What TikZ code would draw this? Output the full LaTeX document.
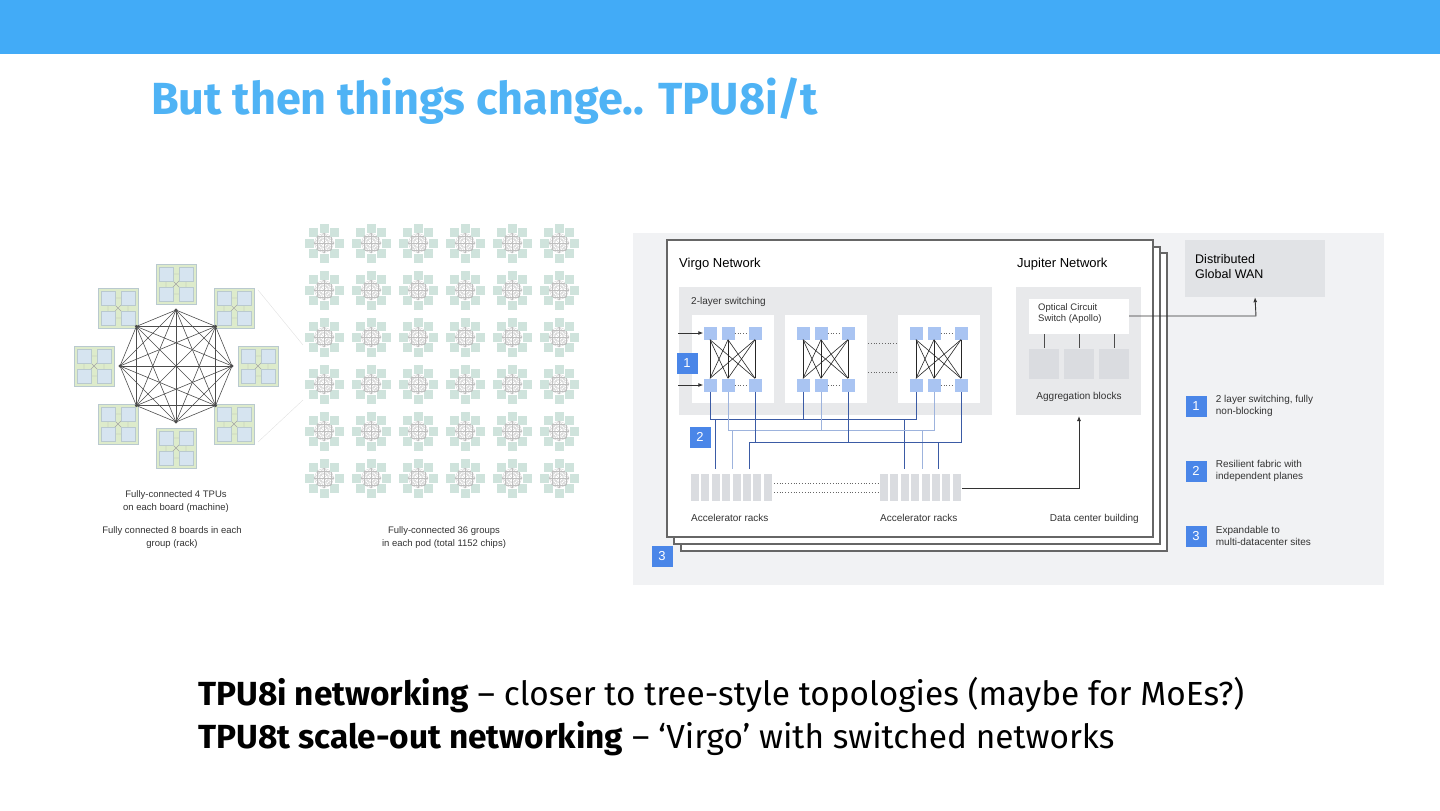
\documentclass[tikz,border=0pt]{standalone}
\usepackage{fontspec}
\setmainfont{Fira Sans}
\newfontfamily\diafont{Liberation Sans}
\usetikzlibrary{positioning,arrows.meta,calc}
\definecolor{barblue}{HTML}{42ABF7}
\definecolor{titleblue}{HTML}{4FB3F5}
\definecolor{panelgray}{HTML}{F1F2F4}
\definecolor{boxgray}{HTML}{E8E9EB}
\definecolor{blockgray}{HTML}{DADCE0}
\definecolor{badgeblue}{HTML}{4A86E8}
\definecolor{sqblue}{HTML}{A9C4F2}
\definecolor{wireblue}{HTML}{3B5BA5}
\definecolor{wirelight}{HTML}{9DB3DD}
\definecolor{boardgreen}{HTML}{DDEBCB}
\definecolor{boardedge}{HTML}{B9C9CF}
\definecolor{chipblue}{HTML}{D6E4F0}
\definecolor{minigreen}{HTML}{CFE3DC}
\tikzset{
  badge/.style={fill=badgeblue,text=white,minimum size=21pt,inner sep=0pt,font=\diafont\fontsize{13}{13}\selectfont},
  lbl/.style={inner sep=0pt,anchor=base west,font=\diafont\fontsize{10}{12}\selectfont,text=black!80},
  head/.style={inner sep=0pt,anchor=base west,font=\diafont\fontsize{13}{15}\selectfont},
  sq/.style={fill=sqblue,minimum size=13pt,inner sep=0pt},
  frame/.style={draw=black!60,line width=1.2pt,fill=white},
  wire/.style={wireblue,line width=0.9pt},
  wirel/.style={wirelight,line width=0.9pt},
  dots/.style={black!60,dotted,line width=0.8pt},
  arr/.style={-{Latex[length=5pt,width=4pt]},black!80,line width=0.9pt},
}
\begin{document}
\begin{tikzpicture}[x=1pt,y=-1pt]
  \useasboundingbox (0,0) rectangle (1440,811);
  % top bar and title
  \fill[barblue] (0,0) rectangle (1440,54);
  \node[inner sep=0pt,anchor=base west,text=titleblue,font=\fontsize{45}{45}\selectfont\bfseries] (title) at (151,114) {But then things change.. TPU8i/t};

  % left: one group (rack)
  \foreach \i in {1,...,8}
    \coordinate (v\i) at ($(176,366)+({45*(\i-1)}:56)$);
  \foreach \i in {1,...,8} {
    \begin{scope}[shift={($(176,366)+({45*(\i-1)}:82)$)}]
      \draw[fill=boardgreen,draw=boardedge] (-20,-20) rectangle (20,20);
      \draw[black!35,line width=0.4pt] (-10,-10) -- (10,10) (-10,10) -- (10,-10) (-10,-10) -- (10,-10) (-10,10) -- (10,10) (-10,-10) -- (-10,10) (10,-10) -- (10,10);
      \foreach \dx/\dy in {-1/-1,1/-1,-1/1,1/1}
        \draw[fill=chipblue,draw=boardedge] ({10*\dx-7},{10*\dy-7}) rectangle ({10*\dx+7},{10*\dy+7});
    \end{scope}
  }
  \foreach \i in {1,...,7}
    \foreach \j in {\i,...,8}
      \draw[black!70,line width=0.6pt] (v\i) -- (v\j);
  \foreach \i in {1,...,8} \fill[black!70] (v\i) circle (1.6pt);
  \draw[black!12] (258,290) -- (303,345) (258,442) -- (303,400);

  % middle: 36 groups (pod)
  \foreach \gx in {0,...,5}
    \foreach \gy in {0,...,5} {
      \begin{scope}[shift={({324+47*\gx},{243+47*\gy})}]
        \foreach \k in {0,...,7} {
          \fill[minigreen] ({45*\k}:15) ++(-4.5,-4.5) rectangle ++(9,9);
          \foreach \m in {\k,...,7}
            \draw[black!25,line width=0.2pt] ({45*\k}:10) -- ({45*\m}:10);
        }
      \end{scope}
    }

  \node[lbl,anchor=base,align=center,font=\diafont\fontsize{9.5}{13}\selectfont] (cap1) at (176,510) {Fully-connected 4 TPUs\\on each board (machine)};
  \node[lbl,anchor=base,align=center,font=\diafont\fontsize{9.5}{13}\selectfont] (cap2) at (172,546) {Fully connected 8 boards in each\\group (rack)};
  \node[lbl,anchor=base,align=center,font=\diafont\fontsize{9.5}{13}\selectfont] (cap3) at (444,546) {Fully-connected 36 groups\\in each pod (total 1152 chips)};

  % right: Virgo / Jupiter
  \fill[panelgray] (633,233) rectangle (1384,585);
  \draw[frame] (681,253) rectangle (1167,551);
  \draw[frame] (674,247) rectangle (1160,544);
  \draw[frame] (667,240) rectangle (1153,537);
  \node[badge] (b3) at (662,556) {3};
  \node[head] (virgo) at (679,267) {Virgo Network};
  \node[head] (jupiter) at (1017,267) {Jupiter Network};
  \fill[boxgray] (679,287) rectangle (992,415);
  \node[lbl] (twolayer) at (691,304) {2-layer switching};
  \foreach \b/\x in {1/692,2/785,3/898} {
    \fill[white] (\x,315) rectangle ({\x+82},403);
    \foreach \s/\o in {1/18,2/36,3/63} {
      \node[sq] (t\b\s) at ({\x+\o},333) {};
      \node[sq] (u\b\s) at ({\x+\o},385) {};
    }
    \foreach \s in {1,2,3}
      \foreach \t in {1,2,3}
        \draw[black!85,line width=0.6pt] (t\b\s.south) -- (u\b\t.north);
    \draw[dots] (t\b2.east) -- (t\b3.west);
    \draw[dots] (u\b2.east) -- (u\b3.west);
  }
  \draw[dots] (868,343) -- (897,343) (868,372) -- (897,372);
  \draw[arr] (678,333) -- (t11.west);
  \draw[arr] (678,385) -- (u11.west);
  \node[badge] (b1) at (687,363) {1};
  \node[badge] (b2) at (700,437) {2};

  % racks
  \foreach \r/\x in {1/691,2/880} {
    \foreach \k in {0,...,7}
      \fill[blockgray] ({\x+\k*10.4},474) rectangle ({\x+\k*10.4+8},501);
    \coordinate (rk\r) at ({\x+82},488);
  }
  \draw[dots] (774,483) -- (879,483) (774,492) -- (879,492);
  \node[lbl] (acc1) at (691,521) {Accelerator racks};
  \node[lbl] (acc2) at (880,521) {Accelerator racks};

  % planes
  \draw[wire] (u11.south) |- (u31.south |- 0,419) -- (u31.south) (u21.south) -- (u21.south |- 0,419);
  \draw[wire] (715,419) -- (715,469) (904,419) -- (904,469);
  \draw[wirel] (u12.south) |- (u32.south |- 0,430) -- (u32.south) (u22.south) -- (u22.south |- 0,430);
  \draw[wirel] (732,430) -- (732,469) (922,430) -- (922,469);
  \draw[wire] (749,469) |- (u33.south |- 0,442) -- (u33.south) (u13.south) -- (u13.south |- 0,442) (u23.south) -- (u23.south |- 0,442);
  \draw[wire] (938,442) -- (938,469);

  % jupiter
  \fill[boxgray] (1016,287) rectangle (1141,415);
  \node[fill=white,minimum width=100pt,minimum height=35pt,inner sep=0pt] (ocs) at (1079,316) {};
  \node[lbl,anchor=north west,align=left,font=\diafont\fontsize{9.5}{11}\selectfont] (ocstext) at (1038,303) {Optical Circuit\\Switch (Apollo)};
  \foreach \k/\x in {1/1044,2/1079,3/1114} {
    \node[fill=blockgray,minimum size=30pt,inner sep=0pt] (ag\k) at (\x,364) {};
    \draw[black!70,line width=0.8pt] (ag\k.north) ++(0,-1) -- (\x,334);
  }
  \node[lbl,anchor=base,font=\diafont\fontsize{10}{12}\selectfont] (aggtext) at (1079,399) {Aggregation blocks};
  \node[lbl,anchor=base east] (dcb) at (1139,521) {Data center building};
  \draw[arr] (rk2) -- (1079,488) -- (1079,416);

  % WAN
  \node[fill=blockgray!80,minimum width=140pt,minimum height=57pt,inner sep=0pt] (wan) at (1255,268.5) {};
  \node[head,anchor=north west,align=left,font=\diafont\fontsize{12.5}{15}\selectfont] (wantext) at (1195,254) {Distributed\\Global WAN};
  \draw[arr] (ocs.east) -- (1256,316) -- (wan.south);

  % legend
  \foreach \n/\y/\txt in {1/406/{2 layer switching, fully\\non-blocking},2/471/{Resilient fabric with\\independent planes},3/536/{Expandable to\\multi-datacenter sites}} {
    \node[badge] (leg\n) at (1196,\y) {\n};
    \node[lbl,anchor=west,align=left,right=9pt of leg\n,font=\diafont\fontsize{10}{12.5}\selectfont] (legtext\n) {\txt};
  }

  % bottom text
  \node[inner sep=0pt,anchor=base west,font=\fontsize{33.4}{33.4}\selectfont] (line1) at (198,705) {\textbf{TPU8i networking} -- closer to tree-style topologies (maybe for MoEs?)};
  \node[inner sep=0pt,anchor=base west,font=\fontsize{33.4}{33.4}\selectfont] (line2) at (198,748) {\textbf{TPU8t scale-out networking} -- `Virgo' with switched networks};
\end{tikzpicture}
\end{document}
